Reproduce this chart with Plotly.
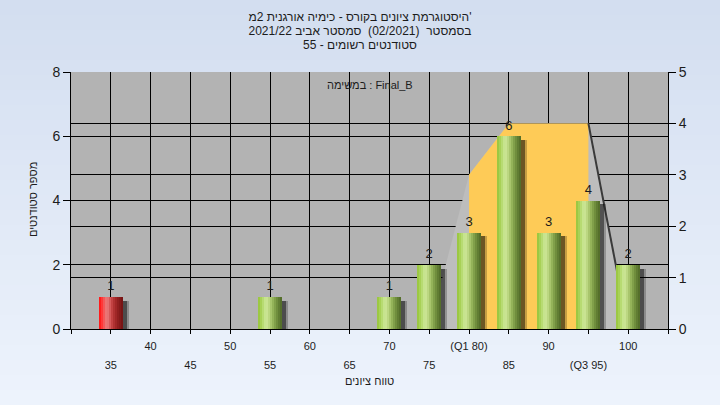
import plotly.graph_objects as go

# ---------------- data ----------------
bins = [35, 40, 45, 50, 55, 60, 65, 70, 75, 80, 85, 90, 95, 100]
counts = [1, 0, 0, 0, 1, 0, 0, 1, 2, 3, 6, 3, 4, 2]
tick_labels = ['35', '40', '45', '50', '55', '60', '65', '70', '75',
               '(Q1 80)', '85', '90', '(Q3 95)', '100']
pass_mark = 55
q1, q3 = 80, 95
dist_x = [75, 80, 85, 95, 100]
dist_y = [0, 3, 4, 4, 0]

title_lines = ["היסטוגרמת ציונים בקורס - כימיה אורגנית 2מ'",
               "בסמסטר \u00a0(02/2021) \u00a0סמסטר אביב 2021/22",
               "סטודנטים רשומים - 55"]
task_label = "במשימה : Final_B"
x_title = "טווח ציונים"
y_title = "מספר סטודנטים"

# ---------------- style ----------------
FONT = "Liberation Sans, Arial, sans-serif"
TXT = "#1c1c1c"
W, H = 720, 405
ML, MR, MT, MB = 71, 52, 72, 76
PW, PH = W - ML - MR, H - MT - MB

green = ['#9cc843', '#a8d157', '#b7db72', '#c6e48d', '#c9e392', '#bbd781',
         '#a8c56c', '#94b359', '#81a04a', '#708e3d', '#617d33', '#556f2b']
red = ['#ff1c1c', '#ff3838', '#f45858', '#ec7474', '#e47272', '#d55a5a',
       '#c24242', '#b03232', '#a02727', '#901f1f', '#841a1a', '#781515']

bar_w = 3.0
n_strips = len(green)
sw = bar_w / n_strips

fig = go.Figure()

# distribution polygon (right axis)
fig.add_trace(go.Scatter(x=dist_x, y=dist_y, xaxis='x', yaxis='y', mode='lines',
                         fill='toself', fillcolor='#bdbdbd', line=dict(width=0),
                         hoverinfo='skip', showlegend=False))
ox = [q1] + [x for x in dist_x if q1 <= x <= q3] + [q3]
oy = [0] + [y for x, y in zip(dist_x, dist_y) if q1 <= x <= q3] + [0]
fig.add_trace(go.Scatter(x=ox, y=oy, xaxis='x', yaxis='y', mode='lines',
                         fill='toself', fillcolor='#fecb57', line=dict(width=0),
                         hoverinfo='skip', showlegend=False))
rx = [x for x in dist_x if x >= q3]
ry = [y for x, y in zip(dist_x, dist_y) if x >= q3]
fig.add_trace(go.Scatter(x=rx, y=ry, xaxis='x', yaxis='y', mode='lines',
                         line=dict(color='#3a3a3a', width=2),
                         hoverinfo='skip', showlegend=False))

# shadows
for off, col in [(0.5, 'rgba(0,0,0,0.45)'), (0.75, 'rgba(0,0,0,0.22)')]:
    fig.add_trace(go.Bar(x=bins, y=counts, base=-0.12, xaxis='x', yaxis='y2',
                         width=bar_w, offset=-bar_w / 2 + off,
                         marker=dict(color=col, line=dict(width=0)),
                         cliponaxis=False, hoverinfo='skip', showlegend=False))

# cylinder-like bars made of strips
for i in range(n_strips):
    cols = [red[i] if b < pass_mark else green[i] for b in bins]
    fig.add_trace(go.Bar(x=bins, y=counts, xaxis='x', yaxis='y2',
                         width=sw * 1.02, offset=-bar_w / 2 + i * sw,
                         marker=dict(color=cols, line=dict(width=0)),
                         hoverinfo='skip', showlegend=False))

# value labels
lx = [b for b, c in zip(bins, counts) if c > 0]
ly = [c for c in counts if c > 0]
fig.add_trace(go.Scatter(x=lx, y=ly, xaxis='x', yaxis='y2', mode='markers+text',
                         marker=dict(size=4, color='rgba(0,0,0,0)'),
                         text=[str(v) for v in ly], textposition='top center',
                         textfont=dict(size=13, color=TXT, family=FONT),
                         cliponaxis=False, hoverinfo='skip', showlegend=False))

# background gradient (paper) + plot area
shapes = []
nb = 27
top_c = (211, 222, 240)
bot_c = (237, 243, 252)
for k in range(nb):
    t = k / (nb - 1)
    c = tuple(round(top_c[j] + (bot_c[j] - top_c[j]) * t) for j in range(3))
    py0 = H * k / nb
    py1 = H * (k + 1) / nb + 1
    shapes.append(dict(type='rect', xref='paper', yref='paper', layer='below',
                       x0=-ML / PW, x1=1 + MR / PW,
                       y0=(H - MB - py1) / PH, y1=(H - MB - py0) / PH,
                       fillcolor='rgb(%d,%d,%d)' % c, line=dict(width=0)))
shapes.append(dict(type='rect', xref='paper', yref='paper', layer='below',
                   x0=0, x1=1, y0=0, y1=1, fillcolor='#b3b3b3', line=dict(width=0)))

# tick labels in two alternating rows
tickvals = [30] + bins + [105]
ticktext = ['']
for i, lab in enumerate(tick_labels):
    span = "<span style='font-size:11px'>%s</span>" % lab
    ticktext.append(span if i % 2 == 1 else '<br>' + span)
ticktext.append('')

title_html = '<br>'.join("<span style='font-size:12px'>%s</span>" % t for t in title_lines)

fig.update_layout(
    width=W, height=H,
    margin=dict(l=ML, r=MR, t=MT, b=MB),
    paper_bgcolor='#e0e9f6', plot_bgcolor='rgba(0,0,0,0)',
    barmode='overlay', bargap=0,
    font=dict(family=FONT, color=TXT, size=11),
    title=dict(text=title_html, x=0.5, xanchor='center',
               y=1 - 21 / H, yref='container', yanchor='top',
               font=dict(size=10.8, color=TXT, family=FONT)),
    xaxis=dict(range=[30, 105], tickmode='array', tickvals=tickvals, ticktext=ticktext,
               showgrid=True, gridcolor='black', gridwidth=1, zeroline=False,
               ticks='outside', ticklen=4, tickcolor='black',
               showline=True, linecolor='black', linewidth=1,
               tickfont=dict(size=14.6, color=TXT, family=FONT), tickangle=0,
               ticklabelstandoff=-2),
    yaxis=dict(range=[0, 5], tickvals=[0, 1, 2, 3, 4, 5], side='right',
               showgrid=True, gridcolor='black', gridwidth=1, zeroline=False,
               ticks='outside', ticklen=7, tickcolor='black',
               showline=True, linecolor='black', linewidth=1,
               tickfont=dict(size=14, color=TXT, family=FONT)),
    yaxis2=dict(range=[0, 8], tickvals=[0, 2, 4, 6, 8], side='left', overlaying='y',
                showgrid=True, gridcolor='black', gridwidth=1, zeroline=False,
                ticks='outside', ticklen=7, tickcolor='black',
                showline=True, linecolor='black', linewidth=1,
                tickfont=dict(size=14, color=TXT, family=FONT)),
    shapes=shapes,
    annotations=[
        dict(text=task_label, xref='paper', yref='paper', x=0.5, y=(H - MB - 85) / PH,
             showarrow=False, xanchor='center', yanchor='middle',
             font=dict(size=11, color=TXT, family=FONT)),
        dict(text=x_title, xref='paper', yref='paper', x=0.5, y=(H - MB - 381) / PH,
             showarrow=False, xanchor='center', yanchor='middle',
             font=dict(size=11, color=TXT, family=FONT)),
        dict(text=y_title, xref='paper', yref='paper', x=(33 - ML) / PW,
             y=(H - MB - 200) / PH, textangle=-90,
             showarrow=False, xanchor='center', yanchor='middle',
             font=dict(size=11, color=TXT, family=FONT)),
    ],
)

fig.write_html("out.html", config={'displayModeBar': False},
               post_script="document.body.style.margin='0';")
